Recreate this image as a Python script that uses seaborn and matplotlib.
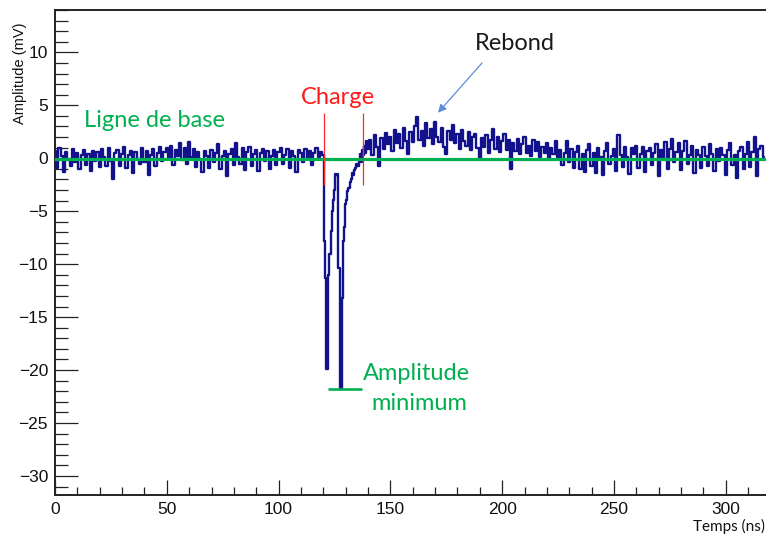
import numpy as np
import pandas as pd
import seaborn as sns
import matplotlib.pyplot as plt
from matplotlib.ticker import MultipleLocator

# waveform values (mV)
before = [0.7, -0.9, 1.0, 0.2, -1.3, 0.6, -0.2, -0.7, 0.9, -0.4,
          0.5, -1.0, 0.3, 0.8, -0.6, 0.4, -1.2, 0.7, -0.3, 0.6,
          -0.8, 0.9, 0.1, -0.7, 1.0, -0.3, -2.0, 0.5, 0.8, -0.7,
          0.4, 1.1, -0.9, 0.3, 0.7, -1.4, 0.6, -0.1, -0.5, 1.0,
          -0.4, 0.7, -1.6, 0.3, 0.9, -0.7, 0.5, 1.1, -0.3, 0.6,
          1.0, -0.1, 1.2, -0.6, 0.8, 0.2, 1.4, -0.2, 1.0, -0.5,
          1.5, 0.1, 0.9, -0.8, 0.6, -0.1, -1.3, 0.7, 0.2, -0.9,
          0.8, -0.4, 0.5, 1.3, -1.0, 0.2, 0.7, -1.7, 0.4, 0.9,
          -0.6, 1.4, 0.1, -0.5, 1.0, -1.1, 0.6, 1.1, -0.7, 0.4,
          0.8, -1.2, 0.5, 0.9, -0.3, 0.7, -1.0, 0.2, 0.8, -0.6,
          0.6, 1.0, -0.5, 0.3, 0.9, -0.9, 0.7, 0.2, -1.3, 0.8,
          0.5, -0.4, 0.9, -0.1, 0.7, -0.6, 0.5, 1.0, 0.1, 0.6]

pulse = [0.3, -7.8, -11.3, -19.9, -19.9, -11.0, -9.0, -6.9, -5.0, -3.9,
         -3.0, -1.5, -1.6, -1.5, -10.4, -21.8, -21.8, -13.2, -7.8, -6.5,
         -4.3, -3.9, -3.1, -2.8, -2.2, -2.0, -1.4, -1.6, -1.1, -0.9,
         -0.5, -0.7, -0.2, 0.4, -0.4, 0.8, 0.3, 1.2, 0.5, 1.6]

after = [0.9, 1.7, 0.3, 2.2, 1.1, -0.7, 1.9, 0.9, 2.4, 1.3,
         2.0, 0.7, 2.7, 1.4, 2.3, 1.0, 2.9, 1.6, 0.4, 2.5,
         1.5, 3.0, 3.9, 1.7, 2.6, 1.2, 3.3, 1.9, 2.8, 1.3,
         3.4, 2.0, 1.5, 2.9, 1.1, 0.4, 2.6, 1.7, 3.1, 1.4,
         2.3, 0.9, 2.7, 1.6, 1.2, 2.5, 0.8, 2.0, 2.3, 1.0,
         0.0, 1.9, 1.1, 2.2, 0.5, 1.7, 2.8, 0.9, 2.0, 0.6,
         1.6, 2.3, 0.8, 1.7, -1.0, 1.4, 0.7, 1.8, 0.4, 1.3,
         2.0, 0.5, 1.2, 0.2, 1.7, 0.7, 1.5, 0.1, 1.1, 0.5,
         1.4, 0.0, 1.0, 0.4, 1.6, 0.1, 0.8, -0.6, 0.5, 1.6,
         -0.4, 0.9, -0.9, 0.6, 1.2, -1.0, 0.4, -1.3, 0.8, 1.3,
         -0.7, 0.5, -1.4, 1.0, 0.1, -1.6, 0.7, 1.4, -0.5, 0.2,
         0.9, -1.2, 2.2, 0.3, -0.8, 1.1, 0.1, -1.5, 1.0, 0.4,
         1.2, -0.9, 0.4, 1.1, -1.3, 0.7, 1.0, -0.6, 0.5, 1.3,
         -1.7, 0.8, 0.0, 1.5, -1.0, 0.9, 1.8, -0.4, 0.6, 1.4,
         -1.1, 0.7, 1.6, -0.5, 0.3, 1.2, -1.4, 0.8, 0.3, -0.9,
         1.1, 0.2, -0.7, 1.3, 0.4, -1.2, 0.9, -0.3, 1.0, 0.3,
         -1.6, 0.8, 1.4, -0.6, 0.3, -1.9, 0.7, 1.1, -1.0, 0.4,
         1.5, -0.8, 0.6, 2.0, -1.7, 0.9, 1.2, 0.1]

# sampling grid (ns)
t_before = np.arange(0, 120, 1.0)
t_pulse = np.arange(120, 140, 0.5)
t_after = np.arange(140, 318, 1.0)

baseline = -0.1
charge_start, charge_end = 120.3, 137.7
amp_min = -21.8

data = pd.DataFrame({'t': np.concatenate([t_before, t_pulse, t_after]),
                     'v': before + pulse + after})

sns.set_style('ticks')
plt.rcParams['font.family'] = ['Liberation Sans', 'DejaVu Sans']

fig = plt.figure(figsize=(7.66, 5.34), dpi=100)
ax = fig.add_axes([55 / 766, 1 - 495 / 534, 1 - 55 / 766, 485 / 534])

sns.lineplot(data=data, x='t', y='v', estimator=None, drawstyle='steps-mid',
             color='#12128c', lw=1.7, ax=ax)

green = '#00b050'
ax.axhline(baseline, color=green, lw=2.3, zorder=4)
ax.vlines([charge_start, charge_end], -2.55, 4.25, color='#ff2a2a', lw=0.9, zorder=5)
ax.hlines(amp_min, 122.1, 137.3, color=green, lw=1.9, zorder=5)

ann = dict(family=['Lato', 'DejaVu Sans'], fontsize=17, ha='center', va='center')
ax.text(44.3, 3.6, 'Ligne de base', color=green, **ann)
ax.text(126.6, 5.75, 'Charge', color='#ff1a1a', **ann)
ax.text(205.7, 10.85, 'Rebond', color='#1a1a1a', **ann)
ax.text(161.9, -20.3, 'Amplitude', color=green, **ann)
ax.text(162.8, -23.2, 'minimum', color=green, **ann)
ax.annotate('', xy=(171.3, 4.3), xytext=(191, 9.0),
            arrowprops=dict(arrowstyle='-|>', color='#5b8fd6', lw=0.9,
                            mutation_scale=12, shrinkA=0, shrinkB=0))

ax.set_xlim(0, 318)
ax.set_ylim(-31.8, 14)
ax.xaxis.set_major_locator(MultipleLocator(50))
ax.xaxis.set_minor_locator(MultipleLocator(10))
ax.yaxis.set_major_locator(MultipleLocator(5))
ax.yaxis.set_minor_locator(MultipleLocator(1))
ax.tick_params(axis='both', which='both', direction='in', width=0.9,
               color='#222222', labelsize=12.5, labelcolor='#111111')
ax.tick_params(axis='y', which='major', length=16.5, pad=5)
ax.tick_params(axis='y', which='minor', length=9)
ax.tick_params(axis='x', which='major', length=10.5, pad=5)
ax.tick_params(axis='x', which='minor', length=5.8)
ax.set_xlabel('')
ax.set_ylabel('')
for side in ['left', 'bottom', 'top']:
    ax.spines[side].set_linewidth(1.4)
    ax.spines[side].set_color('#222222')
ax.spines['right'].set_visible(False)

fig.text(20 / 766, 1 - 22 / 534, 'Amplitude (mV)', rotation=90, ha='center',
         va='top', fontsize=10.5, color='#111111')
fig.text(0.999, 1 - 526 / 534, 'Temps (ns)', ha='right', va='center',
         fontsize=11, color='#111111', family=['Lato', 'DejaVu Sans'])

fig.savefig('out.png', dpi=100)
